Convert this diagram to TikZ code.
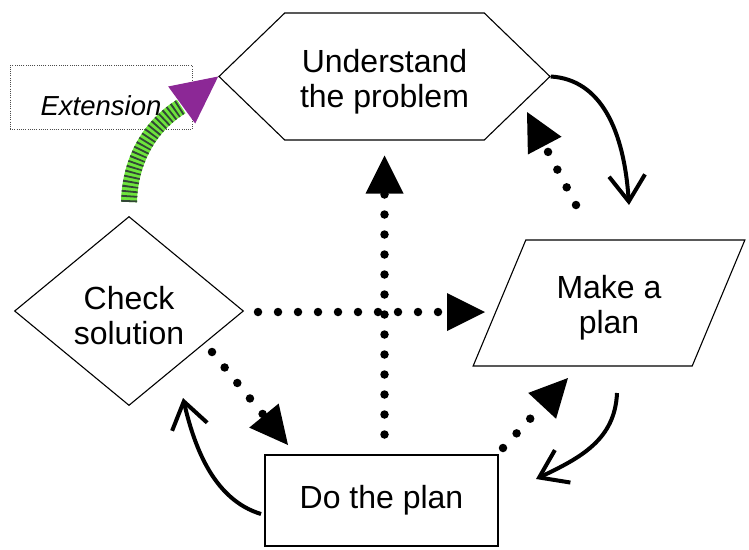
\documentclass[tikz,border=0pt]{standalone}
\usepackage{fontspec}
\setmainfont{Liberation Sans}
\usetikzlibrary{shapes.geometric,shapes.symbols,arrows.meta,calc}
\definecolor{extgreen}{RGB}{110,228,60}
\definecolor{extpurple}{RGB}{140,40,150}
\definecolor{hatch}{RGB}{50,70,55}
\newcommand{\tpad}{\rule{0pt}{33pt}}

\begin{document}
\begin{tikzpicture}[x=1pt,y=-1pt
  ,box/.style={draw,line width=1.1pt,inner sep=0pt,align=center
              ,font=\fontsize{32}{35}\selectfont}
  ,dotarrow/.style={line width=8.5pt,line cap=round,dash pattern=on 0pt off 20pt
              ,-{Triangle[length=38pt,width=38pt,line width=0pt]}}
  ,cyclearrow/.style={line width=4pt,-{Straight Barb[length=26pt,width=36pt]}}]
  \useasboundingbox (0,0) rectangle (749,549);

  \node[box,signal,signal to=west and east,signal pointer angle=88
       ,minimum width=331pt,minimum height=127pt] (under) at (384.5,76.5)
       {\tpad Understand\\the problem};
  \node[box,trapezium,trapezium left angle=66,trapezium right angle=114
       ,trapezium stretches,minimum width=272pt,minimum height=126pt] (plan) at (609,303)
       {\tpad Make a\\plan};
  \node[box,diamond,minimum width=229pt,minimum height=189pt] (check) at (129,311)
       {\tpad Check\\solution};
  \node[box,minimum width=233pt,minimum height=91pt] (do) at (381.5,500.5)
       {Do the plan};
  \node[draw=black!70,line width=0.9pt,dash pattern=on 1pt off 1.2pt,inner sep=0pt
       ,minimum width=182pt,text height=49.5pt,text depth=14.5pt
       ,font=\fontsize{27.5}{30}\selectfont\itshape] (ext) at (101,97.5) {Extension};

  % extension arrow
  \draw[line width=16pt,extgreen
       ,postaction={draw=hatch,line width=16pt,dash pattern=on 1.8pt off 3pt}]
    ($(check)+(0,-109)$) .. controls +(1,-42) and +(-31,19) .. ($(under.west)+(-37,30)$);
  \fill[extpurple] (under.west) -- +(-50,10) -- +(-23,47) -- cycle;

  \draw[dotarrow] ($(check)+(129,1)$) -- ($(plan)+(-124,9)$);
  \draw[dotarrow] ($(do)+(3,-66)$) -- ($(under)+(0,79)$);
  \draw[dotarrow] ($(plan)+(-33,-98)$) -- ($(under)+(142.5,35.5)$);
  \draw[dotarrow] ($(check)+(83,41)$) -- ($(do)+(-93.5,-55.5)$);
  \draw[dotarrow] ($(do)+(121.5,-52.5)$) -- ($(plan)+(-41,75)$);

  \draw[cyclearrow] (under.east) .. controls +(50,3) and +(-5,-75) .. ($(plan)+(20,-98)$);
  \draw[cyclearrow] ($(plan)+(8,90)$) .. controls +(-2,47) and +(44,-21) .. ($(do)+(154.5,-21.5)$);
  \draw[cyclearrow] ($(do)+(-120.5,13.5)$) .. controls +(-46,-14) and +(12,52) .. ($(check)+(54,87)$);
\end{tikzpicture}
\end{document}
